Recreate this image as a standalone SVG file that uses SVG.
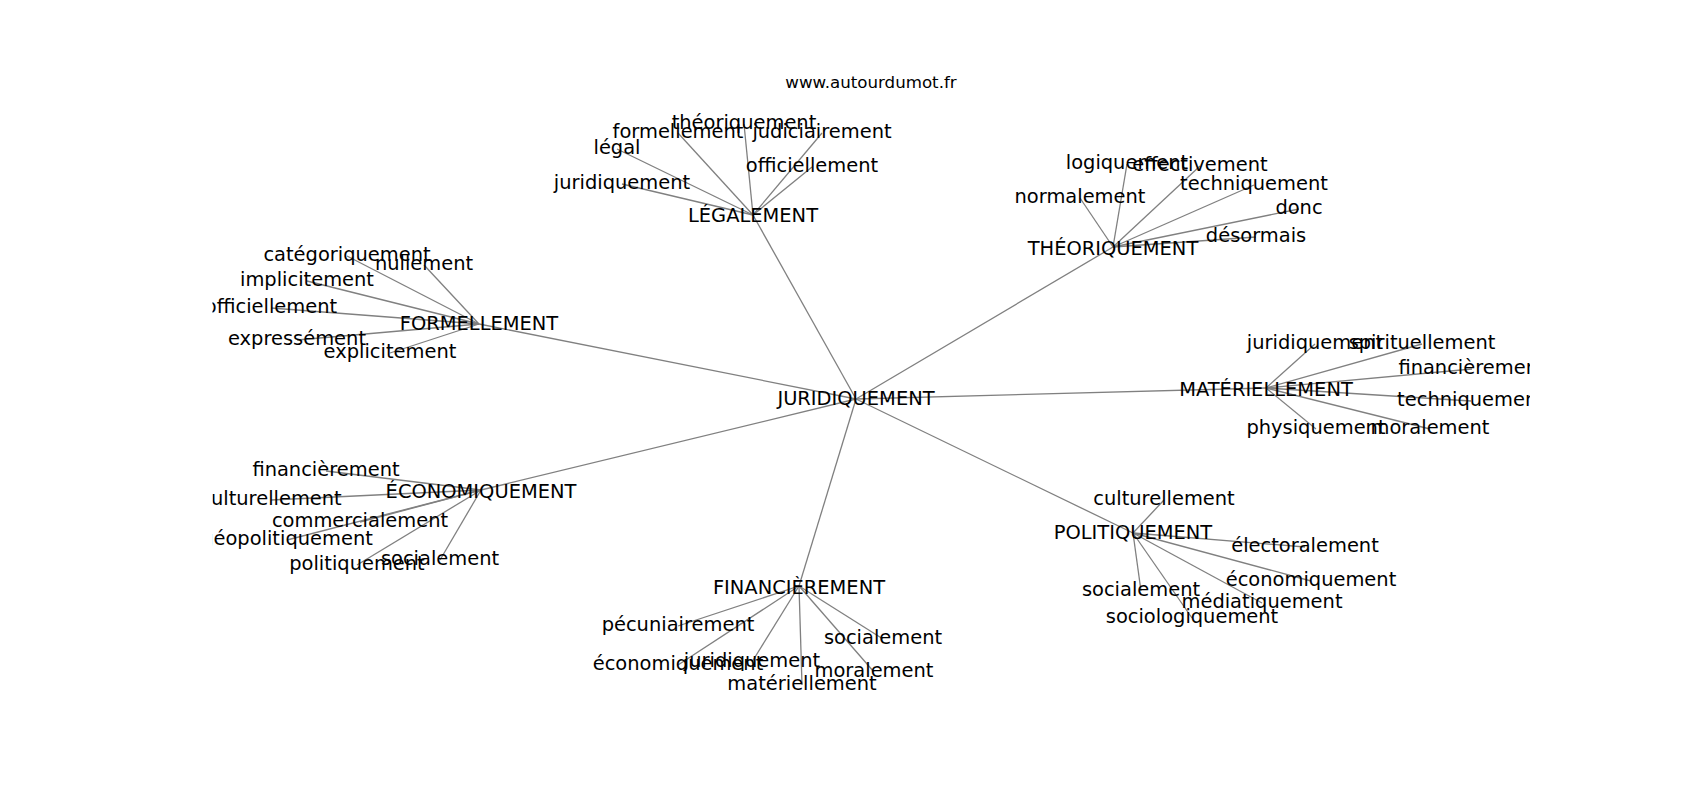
<svg xmlns="http://www.w3.org/2000/svg" width="1700" height="800" viewBox="0 0 1700 800">
<style>
text{font-family:"DejaVu Sans","Liberation Sans",sans-serif;fill:#000}
.l{font-size:19.44px;text-anchor:middle}
.t{font-size:16.67px;text-anchor:middle}
.e line{stroke:#808080;stroke-width:1.3}
</style>
<defs><clipPath id="ax"><rect x="212.5" y="96" width="1317.5" height="616"/></clipPath></defs>
<rect width="1700" height="800" fill="#fff"/>
<text class="t" x="871" y="88">www.autourdumot.fr</text>
<g class="e" id="edges" clip-path="url(#ax)">
<line x1="856" y1="399" x2="753" y2="215"/>
<line x1="856" y1="399" x2="1113" y2="247"/>
<line x1="856" y1="399" x2="479" y2="324"/>
<line x1="856" y1="399" x2="1266" y2="388"/>
<line x1="856" y1="399" x2="481" y2="490"/>
<line x1="856" y1="399" x2="799" y2="586"/>
<line x1="856" y1="399" x2="1133" y2="533"/>
<line x1="753" y1="215" x2="744" y2="124"/>
<line x1="753" y1="215" x2="678" y2="133"/>
<line x1="753" y1="215" x2="822" y2="133"/>
<line x1="753" y1="215" x2="617" y2="149"/>
<line x1="753" y1="215" x2="812" y2="167"/>
<line x1="753" y1="215" x2="622" y2="184"/>
<line x1="1113" y1="247" x2="1127" y2="164"/>
<line x1="1113" y1="247" x2="1200" y2="166"/>
<line x1="1113" y1="247" x2="1254" y2="185"/>
<line x1="1113" y1="247" x2="1080" y2="198"/>
<line x1="1113" y1="247" x2="1299" y2="209"/>
<line x1="1113" y1="247" x2="1256" y2="237"/>
<line x1="479" y1="324" x2="347" y2="256"/>
<line x1="479" y1="324" x2="424" y2="265"/>
<line x1="479" y1="324" x2="307" y2="281"/>
<line x1="479" y1="324" x2="271" y2="308"/>
<line x1="479" y1="324" x2="297" y2="340"/>
<line x1="479" y1="324" x2="390" y2="353"/>
<line x1="1266" y1="388" x2="1315" y2="344"/>
<line x1="1266" y1="388" x2="1422" y2="344"/>
<line x1="1266" y1="388" x2="1472" y2="369"/>
<line x1="1266" y1="388" x2="1471" y2="401"/>
<line x1="1266" y1="388" x2="1316" y2="429"/>
<line x1="1266" y1="388" x2="1430" y2="429"/>
<line x1="481" y1="490" x2="326" y2="471"/>
<line x1="481" y1="490" x2="271" y2="500"/>
<line x1="481" y1="490" x2="360" y2="522"/>
<line x1="481" y1="490" x2="287" y2="540"/>
<line x1="481" y1="490" x2="357" y2="565"/>
<line x1="481" y1="490" x2="440" y2="560"/>
<line x1="799" y1="586" x2="678" y2="626"/>
<line x1="799" y1="586" x2="678" y2="665"/>
<line x1="799" y1="586" x2="752" y2="662"/>
<line x1="799" y1="586" x2="802" y2="685"/>
<line x1="799" y1="586" x2="883" y2="639"/>
<line x1="799" y1="586" x2="874" y2="672"/>
<line x1="1133" y1="533" x2="1164" y2="500"/>
<line x1="1133" y1="533" x2="1305" y2="547"/>
<line x1="1133" y1="533" x2="1311" y2="581"/>
<line x1="1133" y1="533" x2="1141" y2="591"/>
<line x1="1133" y1="533" x2="1262" y2="603"/>
<line x1="1133" y1="533" x2="1192" y2="618"/>
</g>
<g clip-path="url(#ax)">
<g id="n-juridiquement"><text class="l" x="856" y="405">JURIDIQUEMENT</text></g>
<g id="n-legalement"><text class="l" x="753" y="222">LÉGALEMENT</text></g>
<g id="n-theoriquement"><text class="l" x="1113" y="255">THÉORIQUEMENT</text></g>
<g id="n-formellement"><text class="l" x="479" y="330">FORMELLEMENT</text></g>
<g id="n-materiellement"><text class="l" x="1266" y="396">MATÉRIELLEMENT</text></g>
<g id="n-economiquement"><text class="l" x="481" y="498">ÉCONOMIQUEMENT</text></g>
<g id="n-financierement"><text class="l" x="799" y="594">FINANCIÈREMENT</text></g>
<g id="n-politiquement"><text class="l" x="1133" y="539">POLITIQUEMENT</text></g>
<g id="n-leg-theoriquement"><text class="l" x="744" y="129">théoriquement</text></g>
<g id="n-leg-formellement"><text class="l" x="678" y="138">formellement</text></g>
<g id="n-leg-judiciairement"><text class="l" x="822" y="138">judiciairement</text></g>
<g id="n-leg-legal"><text class="l" x="617" y="154">légal</text></g>
<g id="n-leg-officiellement"><text class="l" x="812" y="172">officiellement</text></g>
<g id="n-leg-juridiquement"><text class="l" x="622" y="189">juridiquement</text></g>
<g id="n-the-logiquement"><text class="l" x="1127" y="169">logiquement</text></g>
<g id="n-the-effectivement"><text class="l" x="1200" y="171">effectivement</text></g>
<g id="n-the-techniquement"><text class="l" x="1254" y="190">techniquement</text></g>
<g id="n-the-normalement"><text class="l" x="1080" y="203">normalement</text></g>
<g id="n-the-donc"><text class="l" x="1299" y="214">donc</text></g>
<g id="n-the-desormais"><text class="l" x="1256" y="242">désormais</text></g>
<g id="n-for-categoriquement"><text class="l" x="347" y="261">catégoriquement</text></g>
<g id="n-for-nullement"><text class="l" x="424" y="270">nullement</text></g>
<g id="n-for-implicitement"><text class="l" x="307" y="286">implicitement</text></g>
<g id="n-for-officiellement"><text class="l" x="271" y="313">officiellement</text></g>
<g id="n-for-expressement"><text class="l" x="297" y="345">expressément</text></g>
<g id="n-for-explicitement"><text class="l" x="390" y="358">explicitement</text></g>
<g id="n-mat-juridiquement"><text class="l" x="1315" y="349">juridiquement</text></g>
<g id="n-mat-spirituellement"><text class="l" x="1422" y="349">spirituellement</text></g>
<g id="n-mat-financierement"><text class="l" x="1472" y="374">financièrement</text></g>
<g id="n-mat-techniquement"><text class="l" x="1471" y="406">techniquement</text></g>
<g id="n-mat-physiquement"><text class="l" x="1316" y="434">physiquement</text></g>
<g id="n-mat-moralement"><text class="l" x="1430" y="434">moralement</text></g>
<g id="n-eco-financierement"><text class="l" x="326" y="476">financièrement</text></g>
<g id="n-eco-culturellement"><text class="l" x="271" y="505">culturellement</text></g>
<g id="n-eco-commercialement"><text class="l" x="360" y="527">commercialement</text></g>
<g id="n-eco-geopolitiquement"><text class="l" x="287" y="545">géopolitiquement</text></g>
<g id="n-eco-politiquement"><text class="l" x="357" y="570">politiquement</text></g>
<g id="n-eco-socialement"><text class="l" x="440" y="565">socialement</text></g>
<g id="n-fin-pecuniairement"><text class="l" x="678" y="631">pécuniairement</text></g>
<g id="n-fin-economiquement"><text class="l" x="678" y="670">économiquement</text></g>
<g id="n-fin-juridiquement"><text class="l" x="752" y="667">juridiquement</text></g>
<g id="n-fin-materiellement"><text class="l" x="802" y="690">matériellement</text></g>
<g id="n-fin-socialement"><text class="l" x="883" y="644">socialement</text></g>
<g id="n-fin-moralement"><text class="l" x="874" y="677">moralement</text></g>
<g id="n-pol-culturellement"><text class="l" x="1164" y="505">culturellement</text></g>
<g id="n-pol-electoralement"><text class="l" x="1305" y="552">électoralement</text></g>
<g id="n-pol-economiquement"><text class="l" x="1311" y="586">économiquement</text></g>
<g id="n-pol-socialement"><text class="l" x="1141" y="596">socialement</text></g>
<g id="n-pol-mediatiquement"><text class="l" x="1262" y="608">médiatiquement</text></g>
<g id="n-pol-sociologiquement"><text class="l" x="1192" y="623">sociologiquement</text></g>
</g>
</svg>
